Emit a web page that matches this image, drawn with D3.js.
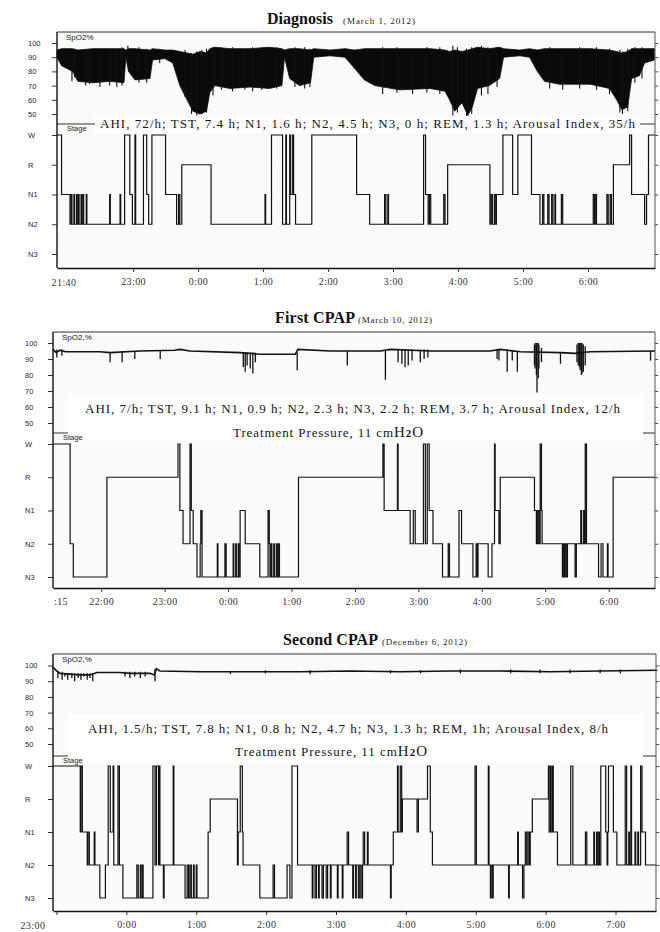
<!DOCTYPE html>
<html lang="en">
<head>
<meta charset="utf-8" />
<title>Polysomnography</title>
<script src="https://cdn.jsdelivr.net/npm/d3@7"></script>
<style>
  body { margin: 0; background: #fff; }
  .tick text { font-family: "Liberation Sans", Arial, sans-serif; }
  .xax .tick text { font-family: "Liberation Serif", "Times New Roman", serif; }
</style>
</head>
<body>
<script>
// times are hours relative to midnight (negative = evening before)
var stages = ["W", "R", "N1", "N2", "N3"];
var spo2Ticks = [50, 60, 70, 80, 90, 100];

// ---- Diagnosis (March 1, 2012): SpO2 envelope [t, high, low]
var diagSpo2 = [
  [-2.17,95,90],[-2.10,96,84],[-1.93,96,80],[-1.85,95,73],[-1.62,96,72],[-1.36,96,73],[-1.14,96,72],
  [-1.11,95,90],[-1.07,96,80],[-0.97,96,74],[-0.74,95,75],[-0.70,96,88],[-0.51,95,89],[-0.39,95,86],
  [-0.28,94,70],[-0.17,93,60],[-0.08,92,52],[0.03,94,50],[0.13,93,52],[0.18,96,65],[0.26,97,70],
  [0.49,96,68],[0.80,96,69],[1.10,97,68],[1.29,96,70],[1.33,95,90],[1.41,96,75],[1.56,96,70],
  [1.73,95,72],[1.78,96,90],[2.03,95,91],[2.26,96,90],[2.41,95,82],[2.56,96,74],[2.72,96,70],
  [3.10,96,67],[3.57,96,68],[3.80,95,66],[3.87,94,60],[3.95,95,52],[4.06,94,58],[4.15,95,49],
  [4.22,96,55],[4.30,97,68],[4.48,96,70],[4.64,97,75],[4.70,96,90],[4.95,95,91],[5.10,96,90],
  [5.22,95,80],[5.33,96,73],[5.56,96,71],[6.03,96,71],[6.33,95,68],[6.44,94,60],[6.52,93,53],
  [6.61,94,55],[6.67,96,75],[6.79,96,77],[6.87,96,86],[7.02,96,88]
];
// single desaturation spikes that stand out of the envelope [t, low, high]
var diagSpikes = [
  [-1.94,73,93],[-1.90,76,94],[-1.73,70,94],[-1.67,71,95],[-1.51,69,95],[-1.36,70,96],[-1.25,69,96],[-1.17,70,97],
  [-1.08,85,98],[-0.91,72,97],[-0.79,72,96],[-0.59,86,96],[-0.20,62,95],[-0.10,50,93],[-0.02,49,94],[0.06,50,95],
  [0.13,51,96],[0.23,63,97],[0.36,67,97],[0.53,66,97],[0.72,67,96],[0.84,66,97],[0.98,67,97],[1.21,68,97],
  [1.49,69,97],[1.64,68,97],[1.72,69,96],[2.84,64,97],[3.06,65,97],[3.30,64,96],[3.52,65,97],[3.72,64,97],
  [3.92,49,98],[3.99,51,97],[4.13,48,96],[4.21,50,97],[4.36,63,98],[4.46,64,97],[4.60,69,97],[5.41,68,97],
  [5.61,67,96],[5.87,68,97],[6.13,67,97],[6.33,64,96],[6.49,51,95],[6.53,50,94],[6.61,52,96],[6.72,72,97],
  [6.83,75,97]
];
var diagStage = [
  [-2.17,"W"],[-2.10,"N1"],[-1.97,"N2"],[-1.95,"N1"],[-1.94,"N2"],[-1.91,"N1"],[-1.90,"N2"],[-1.87,"N1"],[-1.86,"N2"],
  [-1.84,"N1"],[-1.83,"N2"],[-1.80,"N1"],[-1.79,"N2"],[-1.77,"N1"],[-1.76,"N2"],[-1.72,"N1"],[-1.71,"N2"],
  [-1.36,"N1"],[-1.35,"N2"],[-1.20,"N1"],[-1.19,"N2"],[-1.13,"W"],[-1.05,"N1"],[-1.01,"N2"],[-0.97,"W"],[-0.96,"N2"],
  [-0.84,"W"],[-0.79,"N1"],[-0.76,"N2"],[-0.71,"W"],[-0.50,"N1"],[-0.33,"N2"],[-0.30,"N1"],[-0.28,"N2"],[-0.25,"R"],
  [0.20,"N2"],[1.03,"N1"],[1.04,"N2"],[1.13,"W"],[1.30,"N2"],[1.35,"W"],[1.36,"N2"],[1.41,"W"],[1.42,"N1"],[1.45,"W"],
  [1.47,"N1"],[1.50,"N2"],[1.75,"W"],[2.44,"N1"],[2.64,"N2"],[2.87,"N1"],[2.89,"N2"],[2.92,"N1"],[2.93,"N2"],[3.47,"W"],
  [3.50,"N1"],[3.54,"N2"],[3.56,"N1"],[3.58,"N2"],[3.78,"N1"],[3.80,"N2"],[3.84,"R"],[4.49,"N2"],[4.51,"N1"],[4.53,"N2"],
  [4.56,"N1"],[4.58,"N2"],[4.59,"N1"],[4.69,"W"],[4.84,"N1"],[4.92,"W"],[5.13,"N1"],[5.26,"N2"],[5.30,"N1"],[5.32,"N2"],
  [5.38,"N1"],[5.40,"N2"],[5.44,"N1"],[5.46,"N2"],[5.49,"N1"],[5.50,"N2"],[5.59,"N1"],[5.61,"N2"],[6.08,"N1"],[6.10,"N2"],
  [6.12,"N1"],[6.13,"N2"],[6.29,"N1"],[6.31,"N2"],[6.34,"N1"],[6.36,"N2"],[6.39,"R"],[6.64,"W"],[6.67,"N1"],[6.87,"N2"],
  [6.90,"N1"],[6.93,"W"]
];

// ---- First CPAP (March 10, 2012): SpO2 baseline [t, value] and dips [t, low, high]
var cpap1Base = [
  [-2.76,96],[-2.71,94],[-2.65,95.5],[-2.56,94.5],[-2.02,94.5],[-1.86,94],[-1.39,95],[-0.84,95.5],[-0.76,96],
  [-0.60,95],[0.19,94],[0.50,93],[1.06,93],[1.10,96],[1.61,95],[2.40,95],[2.56,96],[3.19,95],[4.13,95],[4.29,96],
  [4.61,94.5],[5.24,94],[5.47,93.5],[5.71,94.5],[6.73,95]
];
var cpap1Dips = [
  [-2.70,91,96],[-2.62,92,96],[-1.86,88,94],[-1.67,88,95],[-1.47,90,95],[-1.07,90,95],[0.24,85,94],[0.27,82,94],
  [0.30,86,94],[0.35,84,94],[0.39,81,94],[0.43,88,94],[1.09,83,94],[1.88,86,95],[2.48,77,95],[2.68,88,96],[2.74,87,96],
  [2.79,85,96],[2.84,86,96],[2.90,89,96],[3.03,88,96],[3.09,90,96],[3.15,91,96],[4.24,90,96],[4.27,89,96],[4.40,82,96],
  [4.48,89,95],[4.56,82,95],[4.83,86,99],[4.84,84,100],[4.86,80,100],[4.87,69,100],[4.89,78,100],[4.90,84,99],
  [4.94,88,97],[5.24,87,94],[5.50,88,99],[5.52,86,100],[5.54,85,100],[5.55,83,100],[5.57,80,100],[5.58,81,100],
  [5.60,82,99],[5.63,86,98],[6.66,89,95]
];
var cpap1Stage = [
  [-2.76,"W"],[-2.49,"N2"],[-2.44,"N3"],[-1.91,"R"],[-0.79,"W"],[-0.76,"N1"],[-0.71,"N2"],[-0.60,"W"],[-0.58,"N1"],
  [-0.55,"N2"],[-0.49,"N3"],[-0.44,"N2"],[-0.43,"N1"],[-0.41,"N3"],[-0.17,"N2"],[-0.16,"N3"],[-0.05,"N2"],[-0.03,"N3"],
  [0.08,"N2"],[0.09,"N3"],[0.12,"N2"],[0.13,"N3"],[0.16,"N2"],[0.17,"N3"],[0.19,"N1"],[0.27,"N2"],[0.50,"N3"],[0.63,"N1"],
  [0.65,"N2"],[0.66,"N3"],[0.68,"N2"],[0.69,"N3"],[0.72,"N2"],[0.73,"N3"],[0.76,"N2"],[0.77,"N3"],[0.79,"N2"],[0.81,"N3"],
  [1.11,"R"],[2.44,"W"],[2.46,"N1"],[2.67,"W"],[2.68,"N1"],[2.87,"N2"],[2.92,"N1"],[2.95,"N2"],[3.08,"W"],[3.11,"N2"],
  [3.14,"W"],[3.17,"N1"],[3.23,"N2"],[3.38,"N3"],[3.47,"N2"],[3.49,"N3"],[3.64,"N1"],[3.68,"N2"],[3.86,"N3"],[3.91,"N2"],
  [3.93,"N3"],[3.94,"N2"],[4.10,"N3"],[4.16,"N2"],[4.20,"W"],[4.21,"N1"],[4.27,"N2"],[4.29,"R"],[4.83,"N1"],[4.86,"N2"],
  [4.88,"N1"],[4.90,"N2"],[4.92,"W"],[4.94,"N1"],[4.95,"N2"],[5.27,"N3"],[5.28,"N2"],[5.30,"N3"],[5.31,"N2"],[5.33,"N3"],
  [5.35,"N2"],[5.47,"N3"],[5.49,"N2"],[5.56,"N1"],[5.57,"N2"],[5.60,"N1"],[5.62,"N2"],[5.63,"W"],[5.65,"N2"],[5.84,"N3"],
  [5.88,"N2"],[5.91,"N3"],[5.98,"N2"],[5.99,"N3"],[6.07,"R"]
];

// ---- Second CPAP (December 6, 2012)
var cpap2Base = [
  [-1.05,99],[-1.01,97],[-0.95,95],[-0.81,94.5],[-0.66,94],[-0.52,94],[-0.42,95.5],[-0.09,95.5],[0.05,95],[0.34,95],
  [0.40,94],[0.43,98],[0.48,96.5],[1.06,96],[1.77,96],[2.49,96],[3.20,96.5],[3.92,96],[4.64,96.5],[5.35,96.5],
  [6.07,96],[6.78,96.5],[7.60,97]
];
var cpap2Dips = [
  [-0.98,92,96],[-0.92,91,96],[-0.88,93,95],[-0.84,91,95],[-0.78,92,95],[-0.74,90,95],[-0.69,92,95],[-0.65,91,95],
  [-0.61,93,95],[-0.56,91,95],[-0.52,92,95],[-0.48,90,95],[-0.02,93,96],[0.05,92,96],[0.12,93,96],[0.20,92,96],
  [0.27,93,96],[0.41,90,98],[1.49,94.5,96.5],[1.99,95,97],[2.63,94.5,97],[3.78,95,97],[4.21,95,97],[4.78,95,97.5],
  [5.50,95,97.5],[5.92,95,97.5],[6.35,95,97.5],[6.78,95,97.5],[7.07,95,97.5]
];
var cpap2Stage = [
  [-1.05,"W"],[-0.66,"N1"],[-0.65,"W"],[-0.63,"N1"],[-0.56,"N2"],[-0.55,"N1"],[-0.53,"N2"],[-0.46,"N1"],[-0.45,"N2"],
  [-0.38,"N3"],[-0.30,"N2"],[-0.26,"W"],[-0.23,"N1"],[-0.19,"W"],[-0.18,"N2"],[-0.12,"W"],[-0.10,"N2"],[-0.05,"N3"],
  [0.15,"N2"],[0.17,"N3"],[0.20,"N2"],[0.21,"N3"],[0.23,"N2"],[0.24,"N3"],[0.38,"W"],[0.41,"N2"],[0.43,"W"],[0.46,"N2"],
  [0.47,"W"],[0.48,"N2"],[0.53,"N3"],[0.54,"N2"],[0.67,"W"],[0.68,"N2"],[0.84,"N3"],[0.87,"N2"],[0.89,"N3"],[0.91,"N2"],
  [0.93,"N3"],[0.96,"N2"],[0.97,"N3"],[1.00,"N2"],[1.01,"N3"],[1.17,"N1"],[1.20,"R"],[1.59,"N2"],[1.60,"N1"],[1.63,"W"],
  [1.66,"N1"],[1.67,"N2"],[1.91,"N3"],[2.10,"N2"],[2.12,"N3"],[2.30,"N2"],[2.34,"N3"],[2.37,"W"],[2.45,"N2"],[2.66,"N3"],
  [2.67,"N2"],[2.70,"N3"],[2.72,"N2"],[2.75,"N3"],[2.76,"N2"],[2.80,"N3"],[2.82,"N2"],[2.86,"N3"],[2.88,"N2"],[2.92,"N3"],
  [2.93,"N2"],[3.02,"N3"],[3.03,"N2"],[3.09,"N3"],[3.10,"N2"],[3.16,"N1"],[3.18,"N2"],[3.24,"N3"],[3.25,"N2"],[3.28,"N3"],
  [3.29,"N2"],[3.32,"N3"],[3.34,"N2"],[3.36,"N3"],[3.38,"N2"],[3.39,"N1"],[3.41,"N2"],[3.45,"N1"],[3.46,"N2"],[3.78,"N3"],
  [3.79,"N2"],[3.82,"N1"],[3.88,"W"],[3.89,"N1"],[3.92,"W"],[3.94,"N1"],[3.95,"R"],[4.16,"N1"],[4.18,"R"],[4.31,"W"],
  [4.35,"N1"],[4.38,"N2"],[4.99,"W"],[5.01,"N2"],[5.18,"W"],[5.19,"N2"],[5.21,"N3"],[5.22,"N2"],[5.24,"N3"],[5.25,"N2"],
  [5.47,"N3"],[5.48,"N2"],[5.60,"N1"],[5.61,"N2"],[5.67,"N3"],[5.69,"N2"],[5.71,"N1"],[5.73,"N2"],[5.75,"N1"],[5.77,"N2"],
  [5.78,"N1"],[5.81,"R"],[6.04,"W"],[6.05,"N1"],[6.07,"W"],[6.08,"N1"],[6.10,"W"],[6.11,"N1"],[6.17,"N2"],[6.36,"W"],
  [6.39,"N2"],[6.57,"N1"],[6.59,"N2"],[6.69,"N1"],[6.70,"N2"],[6.73,"N1"],[6.74,"N2"],[6.76,"N1"],[6.77,"N2"],[6.79,"W"],
  [6.86,"N1"],[6.88,"N2"],[6.89,"N1"],[6.90,"W"],[6.97,"N1"],[7.02,"N2"],[7.14,"W"],[7.16,"N2"],[7.19,"N1"],[7.20,"N2"],
  [7.22,"W"],[7.23,"N2"],[7.28,"N1"],[7.29,"N2"],[7.32,"N1"],[7.33,"N2"],[7.36,"W"],[7.38,"N1"],[7.43,"N2"]
];

var panels = [
  { title: "Diagnosis", date: "(March 1, 2012)", titleX: [267, 66, 343, 72], titleY: 24,
    domain: [-2.17, 7.03], left: 57, right: 655, top: 32, bottom: 268, spo2Y: [114, 43], stageY: [135, 254], sep: 124,
    labelX: 28, spo2Label: "SpO2%", hours: [-1, 0, 1, 2, 3, 4, 5, 6], startLabel: ["21:40", 7], labelY: 286,
    envelope: diagSpo2, dips: diagSpikes, hyp: diagStage,
    box: [95, 116, 545, 17],
    notes: [{ text: "AHI, 72/h; TST, 7.4 h; N1, 1.6 h; N2, 4.5 h; N3, 0 h; REM, 1.3 h;  Arousal Index, 35/h", x: 100, y: 128, w: 535 }] },
  { title: "First CPAP", date: "(March 10, 2012)", titleX: [275, 80, 358, 74], titleY: 323,
    domain: [-2.76, 6.73], left: 53, right: 655, top: 332, bottom: 588, spo2Y: [423, 343], stageY: [444, 577], sep: 433,
    labelX: 25, spo2Label: "SpO2,%", hours: [-2, -1, 0, 1, 2, 3, 4, 5, 6], startLabel: [":15", 8], labelY: 605,
    base: cpap1Base, dips: cpap1Dips, hyp: cpap1Stage,
    box: [68, 393, 575, 48],
    notes: [{ text: "AHI, 7/h; TST, 9.1 h; N1, 0.9 h; N2, 2.3 h; N3, 2.2 h; REM, 3.7 h;  Arousal Index, 12/h", x: 85, y: 413, w: 535 },
            { text: "Treatment Pressure, 11 cm", x: 233, y: 437, w: 190, h2o: true }] },
  { title: "Second CPAP", date: "(December 6, 2012)", titleX: [283, 95, 382, 85], titleY: 645,
    domain: [-1.05, 7.58], left: 53, right: 656, top: 654, bottom: 911, spo2Y: [744, 665.5], stageY: [766, 898], sep: 756,
    labelX: 25, spo2Label: "SpO2,%", hours: [-1, 0, 1, 2, 3, 4, 5, 6, 7], startLabel: ["23:00", -20], labelY: 929,
    base: cpap2Base, dips: cpap2Dips, hyp: cpap2Stage,
    box: [68, 714, 575, 48],
    notes: [{ text: "AHI, 1.5/h; TST, 7.8 h; N1, 0.8 h; N2, 4.7 h; N3, 1.3 h; REM, 1h; Arousal Index, 8/h", x: 88, y: 733, w: 520 },
            { text: "Treatment Pressure, 11 cm", x: 235, y: 756, w: 192, h2o: true }] }
];

var svg = d3.select("body").append("svg").attr("width", 660).attr("height", 932);
var serif = "'Liberation Serif', 'Times New Roman', serif";
var sans = "'Liberation Sans', Arial, sans-serif";

panels.forEach(function(p) {
  var g = svg.append("g");
  var x = d3.scaleLinear().domain(p.domain).range([p.left, p.right]);
  var y = d3.scaleLinear().domain([50, 100]).range(p.spo2Y);
  var s = d3.scalePoint().domain(stages).range(p.stageY);

  // title
  g.append("text").attr("x", p.titleX[0]).attr("y", p.titleY).attr("textLength", p.titleX[1])
    .attr("font-family", serif).attr("font-weight", "bold").attr("font-size", 16).attr("fill", "#111").text(p.title);
  g.append("text").attr("x", p.titleX[2]).attr("y", p.titleY).attr("textLength", p.titleX[3])
    .attr("font-family", serif).attr("font-size", 9).attr("fill", "#222").text(p.date);

  g.append("rect").attr("x", p.left).attr("y", p.top).attr("width", p.right - p.left).attr("height", p.bottom - p.top)
    .attr("fill", "#fafaf8");

  // SpO2 trace
  if (p.envelope) {
    g.append("path").datum(p.envelope)
      .attr("d", d3.area().x(function(d) { return x(d[0]); }).y0(function(d) { return y(d[2]); }).y1(function(d) { return y(d[1]); }))
      .attr("fill", "#0a0a0a").attr("stroke", "#0a0a0a").attr("stroke-width", 0.8);
  }
  if (p.base) {
    g.append("path").datum(p.base)
      .attr("d", d3.line().x(function(d) { return x(d[0]); }).y(function(d) { return y(d[1]); }))
      .attr("fill", "none").attr("stroke", "#111").attr("stroke-width", 1.6);
  }
  g.selectAll(null).data(p.dips).enter().append("line")
    .attr("x1", function(d) { return x(d[0]); }).attr("x2", function(d) { return x(d[0]); })
    .attr("y1", function(d) { return y(d[2]); }).attr("y2", function(d) { return y(d[1]); })
    .attr("stroke", "#111").attr("stroke-width", p.envelope ? 1.1 : 1.3);

  // separator between SpO2 and stage
  g.append("line").attr("x1", p.left).attr("x2", p.right).attr("y1", p.sep).attr("y2", p.sep)
    .attr("stroke", "#333").attr("stroke-width", 1);

  // hypnogram
  var hyp = p.hyp.concat([[p.domain[1], p.hyp[p.hyp.length - 1][1]]]);
  g.append("path").datum(hyp)
    .attr("d", d3.line().x(function(d) { return x(d[0]); }).y(function(d) { return s(d[1]); }).curve(d3.curveStepAfter))
    .attr("fill", "none").attr("stroke", "#111").attr("stroke-width", 1.2);

  // annotation on white ground
  g.append("rect").attr("x", p.box[0]).attr("y", p.box[1]).attr("width", p.box[2]).attr("height", p.box[3]).attr("fill", "#fff");
  p.notes.forEach(function(n) {
    var t = g.append("text").attr("x", n.x).attr("y", n.y).attr("textLength", n.w).attr("lengthAdjust", "spacing")
      .attr("font-family", serif).attr("font-size", 13).attr("fill", "#151515");
    t.append("tspan").text(n.text);
    if (n.h2o) {
      t.append("tspan").attr("font-size", 15).text("H");
      t.append("tspan").attr("font-size", 11).attr("font-weight", "bold").text("2");
      t.append("tspan").attr("font-size", 15).text("O");
    }
  });

  g.append("text").attr("x", p.left + 9).attr("y", p.top + 8).attr("font-family", sans).attr("font-size", 8)
    .attr("fill", "#222").text(p.spo2Label);
  g.append("text").attr("x", p.left + 10).attr("y", p.sep + 6.5).attr("font-family", sans).attr("font-size", 7.5)
    .attr("fill", "#222").text("Stage");

  // left axes
  var ay = g.append("g").attr("transform", "translate(" + p.left + ",0)")
    .call(d3.axisLeft(y).tickValues(spo2Ticks).tickSize(5).tickSizeOuter(0));
  var as = g.append("g").attr("transform", "translate(" + p.left + ",0)")
    .call(d3.axisLeft(s).tickSize(5).tickSizeOuter(0));
  [ay, as].forEach(function(a) {
    a.select(".domain").remove();
    a.selectAll(".tick line").attr("stroke", "#333");
    a.selectAll(".tick text").attr("text-anchor", "start").attr("x", p.labelX - p.left)
      .attr("font-size", 7.5).attr("fill", "#1c1f45");
  });

  // right ticks
  [d3.axisRight(y).tickValues(spo2Ticks), d3.axisRight(s)].forEach(function(ax) {
    var a = g.append("g").attr("transform", "translate(" + p.right + ",0)").call(ax.tickSize(3).tickSizeOuter(0).tickFormat(""));
    a.select(".domain").remove();
    a.selectAll(".tick line").attr("stroke", "#444");
  });

  // frame
  g.append("line").attr("x1", p.left).attr("x2", p.right).attr("y1", p.top).attr("y2", p.top).attr("stroke", "#333");
  g.append("line").attr("x1", p.right).attr("x2", p.right).attr("y1", p.top).attr("y2", p.bottom).attr("stroke", "#555");
  g.append("line").attr("x1", p.left).attr("x2", p.left).attr("y1", p.top).attr("y2", p.bottom)
    .attr("stroke", "#111").attr("stroke-width", 1.4);

  // time axis
  var ax = g.append("g").attr("class", "xax").attr("transform", "translate(0," + p.bottom + ")")
    .call(d3.axisBottom(x).tickValues(p.hours).tickSize(4).tickSizeOuter(0).tickPadding(6)
      .tickFormat(function(h) { return h === p.hours[0] && p.startLabel[1] < 0 ? "" : ((h + 24) % 24) + ":00"; }));
  ax.select(".domain").attr("stroke", "#111").attr("stroke-width", 1.4);
  ax.selectAll(".tick line").attr("stroke", "#333");
  ax.selectAll(".tick text").attr("font-size", 10).attr("fill", "#333").attr("letter-spacing", 0.4);
  g.append("text").attr("x", p.left + p.startLabel[1]).attr("y", p.labelY).attr("text-anchor", "middle")
    .attr("font-family", serif).attr("font-size", 10).attr("letter-spacing", 0.4).attr("fill", "#333").text(p.startLabel[0]);
});
</script>
</body>
</html>
